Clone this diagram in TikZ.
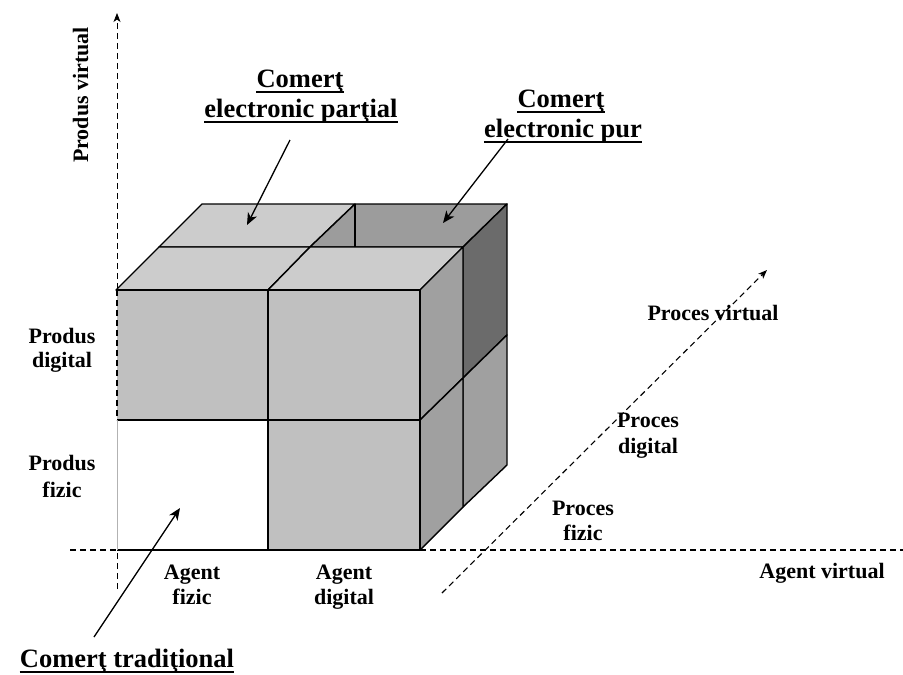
\documentclass[tikz,border=0pt]{standalone}
\usepackage{fontspec}
\setmainfont{Liberation Serif}
\usetikzlibrary{arrows.meta}
\definecolor{topc}{HTML}{CCCCCC}
\definecolor{frontc}{HTML}{C0C0C0}
\definecolor{sidec}{HTML}{A0A0A0}
\definecolor{sidedark}{HTML}{6B6B6B}
\definecolor{backtop}{HTML}{9C9C9C}
\begin{document}
\begin{tikzpicture}[x=1pt,y=-1pt,
  edge/.style={line width=1.4pt, line join=round},
  axisline/.style={line width=1.1pt, dash pattern=on 6pt off 4pt},
  lbl/.style={font=\fontsize{22}{24}\selectfont\bfseries, inner sep=0pt, anchor=base},
  ttl/.style={font=\fontsize{26.5}{29}\selectfont\bfseries, inner sep=0pt, anchor=base},
  ptr/.style={line width=1.3pt, -{Stealth[length=12pt,width=10pt,inset=3.5pt]}},
  axtip/.style={-{Stealth[length=9pt,width=7pt,inset=2.5pt]}},
  uline/.style={line width=2.3pt}
]
\useasboundingbox (0,0) rectangle (903,675);

% axes
\coordinate (hA) at (70,550);
\coordinate (hB) at (903,550);
\coordinate (vA) at (117,589);
\coordinate (vB) at (117,13);
\coordinate (dA) at (442,593);
\coordinate (dB) at (767,270);
\draw[axisline] (hA) -- (hB);
\draw[axisline, line width=0.8pt, axtip] (vA) -- (vB);
\draw[axisline, axtip] (dA) -- (dB);

% cube: top faces, back row
\filldraw[fill=topc, edge] (202,204) -- (355,204) -- (310,247) -- (159,247) -- cycle;
\filldraw[fill=backtop, edge] (355,204) -- (507,204) -- (463,247) -- (310,247) -- cycle;
\draw[edge] (355,204) -- (355,247);
% top faces, front row
\filldraw[fill=topc, edge] (159,247) -- (310,247) -- (268,290) -- (116,290) -- cycle;
\filldraw[fill=topc, edge] (310,247) -- (463,247) -- (420,290) -- (268,290) -- cycle;
% right side faces
\filldraw[fill=sidedark, edge] (463,247) -- (507,204) -- (507,335) -- (463,378) -- cycle;
\filldraw[fill=sidec, edge] (463,378) -- (507,335) -- (507,465) -- (463,507) -- cycle;
\filldraw[fill=sidec, edge] (420,290) -- (463,247) -- (463,378) -- (420,420) -- cycle;
\filldraw[fill=sidec, edge] (420,420) -- (463,378) -- (463,507) -- (420,550) -- cycle;
% front face
\fill[frontc] (117,290) rectangle (420,550);
\fill[white] (117,420) rectangle (268,550);
\draw[edge] (117,290) -- (420,290) -- (420,550) -- (117,550);
\draw[edge] (268,290) -- (268,550);
\draw[edge] (117,420) -- (420,420);
\draw[line width=0.5pt, gray!60] (117,420) -- (117,550);
\draw[axisline, line width=1.4pt] (117,290) -- (117,420);

% axis labels
\node[lbl, rotate=90] (pvirt) at (88,95) {Produs virtual};
\node[lbl] (pd1) at (62,343) {Produs};
\node[lbl] (pd2) at (62,367) {digital};
\node[lbl] (pf1) at (62,470) {Produs};
\node[lbl] (pf2) at (62,497) {fizic};
\node[lbl] (af1) at (192,579) {Agent};
\node[lbl] (af2) at (192,604) {fizic};
\node[lbl] (ad1) at (344,579) {Agent};
\node[lbl] (ad2) at (344,604) {digital};
\node[lbl] (avirt) at (822,578) {Agent virtual};
\node[lbl] (prv) at (713,320) {Proces virtual};
\node[lbl] (prd1) at (648,427) {Proces};
\node[lbl] (prd2) at (648,453) {digital};
\node[lbl] (prf1) at (583,515) {Proces};
\node[lbl] (prf2) at (583,540) {fizic};

% titles
\node[ttl] (cp1) at (300,87) {Comerţ};
\node[ttl] (cp2) at (301,117) {electronic parţial};
\node[ttl] (cu1) at (561,107) {Comerţ};
\node[ttl] (cu2) at (563,137) {electronic pur};
\node[ttl] (ct) at (127,667) {Comerţ tradiţional};
\foreach \n in {cp1,cp2,cu1,cu2,ct}
  \draw[uline] ([yshift=-5pt]\n.base west) -- ([yshift=-5pt]\n.base east);

% pointers
\coordinate (cpS) at (290,140);
\coordinate (cpT) at (247,225);
\coordinate (cuS) at (508,139);
\coordinate (cuT) at (443,223);
\coordinate (ctS) at (94,637);
\coordinate (ctT) at (180,508);
\draw[ptr] (cpS) -- (cpT);
\draw[ptr] (cuS) -- (cuT);
\draw[ptr] (ctS) -- (ctT);
\end{tikzpicture}
\end{document}
